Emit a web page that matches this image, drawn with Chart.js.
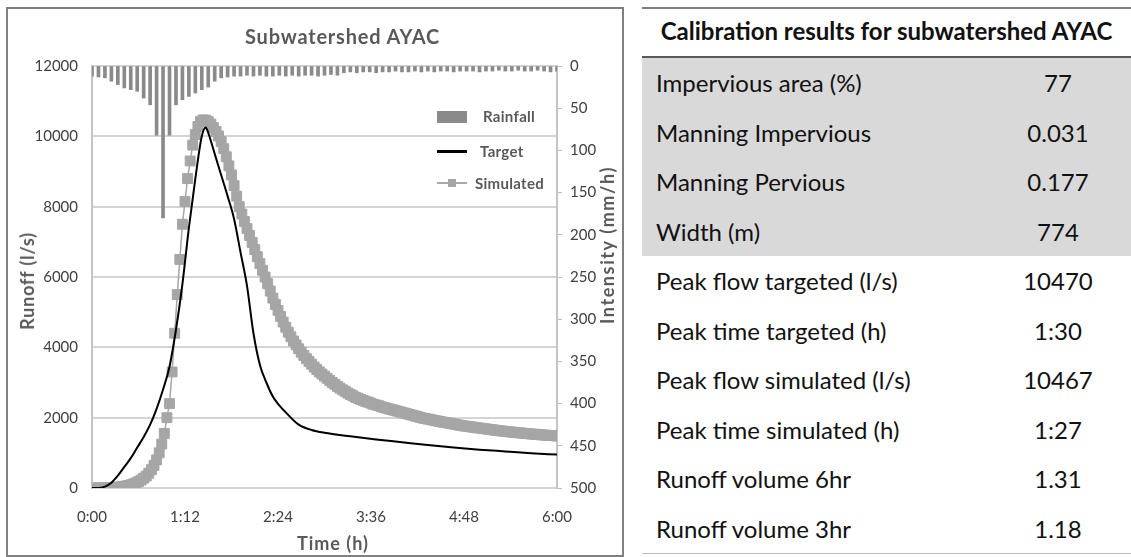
<!DOCTYPE html>
<html lang="en">
<head>
<meta charset="UTF-8">
<title>Subwatershed AYAC</title>
<script src="https://cdn.jsdelivr.net/npm/chart.js"></script>
<style>
	body {
		margin: 0;
		padding: 0;
		background: #fff;
		font-family: 'Lato', sans-serif;
		width: 1131px;
		height: 557px;
		overflow: hidden;
		position: relative;
	}

	.chart-box {
		position: absolute;
		left: 6px;
		top: 7px;
		width: 614px;
		height: 546px;
		border: 2px solid #808080;
	}

	#runoff-chart {
		position: absolute;
		left: 0;
		top: 0;
	}

	.chart-title {
		position: absolute;
		left: 245px;
		top: 24px;
		font-size: 20px;
		font-weight: 700;
		letter-spacing: 0.8px;
		color: #595959;
		white-space: nowrap;
	}

	.axis-title {
		position: absolute;
		font-size: 18px;
		font-weight: 700;
		color: #595959;
		white-space: nowrap;
		transform: translate(-50%, -50%);
	}

	.axis-title.rot {
		transform: translate(-50%, -50%) rotate(-90deg);
	}

	.legend-item {
		position: absolute;
		font-size: 15px;
		font-weight: 700;
		letter-spacing: 0.3px;
		color: #595959;
		white-space: nowrap;
		line-height: 18px;
	}

	.swatch {
		position: absolute;
	}

	/* table on the right */
	.calib {
		position: absolute;
		left: 642px;
		top: 7px;
		width: 489px;
		border-collapse: collapse;
		border-top: 2px solid #7f7f7f;
		border-bottom: 1px solid #bfbfbf;
		font-size: 24px;
		color: #111;
	}

	.calib th {
		height: 42px;
		padding: 0 0 5px 0;
		font-size: 24px;
		font-weight: 700;
		text-align: center;
		border-bottom: 2px solid #5a5a5a;
		white-space: nowrap;
	}

	.calib td {
		height: 49.5px;
		padding: 0;
		white-space: nowrap;
	}

	.calib td.lbl {
		padding-left: 14px;
		width: 329px;
	}

	.calib td.val {
		text-align: center;
	}

	.calib tr.shade td {
		background: #d9d9d9;
	}
</style>
</head>
<body>

<div class="chart-box"></div>
<canvas id="runoff-chart" width="623" height="557"></canvas>

<div class="chart-title">Subwatershed AYAC</div>
<div class="axis-title rot" style="left:27px; top:281px; letter-spacing:0.8px;">Runoff (l/s)</div>
<div class="axis-title rot" style="left:607px; top:245px; letter-spacing:1.6px;">Intensity (mm/h)</div>
<div class="axis-title" style="left:333px; top:543px; letter-spacing:1px;">Time (h)</div>

<div class="swatch" style="left:437px; top:111px; width:30px; height:12px; background:#8a8a8a;"></div>
<div class="legend-item" style="left:483px; top:107px;">Rainfall</div>
<div class="swatch" style="left:437px; top:150px; width:30px; height:3px; background:#000;"></div>
<div class="legend-item" style="left:480px; top:142px;">Target</div>
<div class="swatch" style="left:437px; top:182px; width:30px; height:2px; background:#a6a6a6;"></div>
<div class="swatch" style="left:448px; top:179px; width:8px; height:8px; background:#a6a6a6;"></div>
<div class="legend-item" style="left:475px; top:174px;">Simulated</div>

<table class="calib">
	<tr><th colspan="2">Calibration results for subwatershed AYAC</th></tr>
	<tr class="shade"><td class="lbl">Impervious area (%)</td><td class="val">77</td></tr>
	<tr class="shade"><td class="lbl">Manning Impervious</td><td class="val">0.031</td></tr>
	<tr class="shade"><td class="lbl">Manning Pervious</td><td class="val">0.177</td></tr>
	<tr class="shade"><td class="lbl">Width (m)</td><td class="val">774</td></tr>
	<tr><td class="lbl">Peak flow targeted (l/s)</td><td class="val">10470</td></tr>
	<tr><td class="lbl">Peak time targeted (h)</td><td class="val">1:30</td></tr>
	<tr><td class="lbl">Peak flow simulated (l/s)</td><td class="val">10467</td></tr>
	<tr><td class="lbl">Peak time simulated (h)</td><td class="val">1:27</td></tr>
	<tr><td class="lbl">Runoff volume 6hr</td><td class="val">1.31</td></tr>
	<tr><td class="lbl">Runoff volume 3hr</td><td class="val">1.18</td></tr>
</table>

<script>
	// rainfall intensity (mm/h), one bar every 5 minutes from 0:00 to 6:00
	const rainStep = 5;
	const rainfall = [
		12, 13, 14, 18, 22, 26, 28, 30, 38, 46, 82, 180, 82, 46, 40, 36, 32, 28, 25, 18, 14, 13, 12,
		12, 11, 12, 11, 12, 12, 11, 12, 11, 12, 11, 11, 12, 11, 10, 11,
		8, 7, 8, 7, 7, 8, 7, 7, 6, 7, 7, 6, 7, 6, 7, 6, 6, 7, 6, 6, 6, 7, 6, 6, 5, 6, 6, 5, 6, 6, 5, 6, 7, 6
	];

	// target hydrograph (minutes, l/s)
	const targetTime = [0, 5, 10, 15, 20, 25, 30, 35, 40, 45, 50, 55, 60, 65, 70, 75, 80, 85, 88, 90, 95, 100,
		105, 110, 115, 120, 125, 130, 135, 140, 145, 150, 160, 170, 180, 200, 220, 240, 260, 280, 300, 320, 340, 360];
	const targetFlow = [0, 0, 40, 150, 350, 600, 850, 1150, 1450, 1800, 2250, 2800, 3450, 4500, 5800, 7400, 8800, 10000, 10250, 10100, 9500, 8900,
		8300, 7650, 6700, 5750, 4400, 3500, 3000, 2600, 2350, 2150, 1800, 1650, 1570, 1470, 1380, 1300, 1220, 1150, 1090, 1040, 990, 950];

	// simulated hydrograph (l/s), one value every 2 minutes (one row = 20 minutes)
	const simStep = 2;
	const simulatedFlow = [
		0, 0, 0, 0, 0, 5, 5, 10, 15, 20,
		25, 30, 40, 55, 70, 90, 115, 145, 180, 225,
		280, 340, 420, 520, 640, 800, 1000, 1250, 1550, 2000,
		2400, 3300, 4400, 5500, 6500, 7500, 8150, 8800, 9300, 9750,
		10050, 10280, 10420, 10467, 10460, 10420, 10350, 10250, 10140, 10010,
		9850, 9650, 9420, 9160, 8900, 8600, 8300, 8000, 7790, 7580,
		7380, 7180, 6980, 6780, 6580, 6380, 6190, 6000, 5810, 5600,
		5400, 5220, 5050, 4880, 4720, 4570, 4430, 4300, 4180, 4070,
		3960, 3860, 3770, 3680, 3600, 3520, 3440, 3370, 3300, 3240,
		3180, 3120, 3060, 3000, 2950, 2890, 2840, 2790, 2750, 2700,
		2660, 2620, 2580, 2550, 2520, 2490, 2460, 2440, 2410, 2380,
		2360, 2340, 2310, 2290, 2270, 2250, 2230, 2210, 2190, 2170,
		2150, 2130, 2110, 2090, 2070, 2050, 2030, 2010, 1990, 1975,
		1960, 1945, 1930, 1915, 1900, 1885, 1870, 1860, 1845, 1830,
		1820, 1805, 1790, 1780, 1765, 1755, 1745, 1735, 1725, 1715,
		1705, 1695, 1685, 1675, 1665, 1655, 1645, 1635, 1625, 1620,
		1610, 1600, 1595, 1585, 1580, 1570, 1565, 1555, 1550, 1545,
		1535, 1530, 1525, 1520, 1510, 1505, 1500, 1495, 1490, 1485,
		1480
	];

	const timeTickLabels = ['0:00', '1:12', '2:24', '3:36', '4:48', '6:00'];

	Chart.defaults.font.family = 'Lato';

	const tickFont = { family: 'Lato', size: 15 };
	const tickColor = '#404040';

	new Chart(document.getElementById('runoff-chart'), {
		type: 'line',
		data: {
			datasets: [
				{
					label: 'Target',
					data: targetTime.map((t, i) => ({ x: t, y: targetFlow[i] })),
					borderColor: '#000',
					borderWidth: 2,
					pointRadius: 0,
					cubicInterpolationMode: 'monotone',
					yAxisID: 'y',
					order: 0
				},
				{
					label: 'Simulated',
					data: simulatedFlow.map((v, i) => ({ x: i * simStep, y: v })),
					borderColor: '#a6a6a6',
					backgroundColor: '#a6a6a6',
					borderWidth: 1.5,
					pointStyle: 'rect',
					pointRadius: 7,
					pointBorderWidth: 1,
					pointBorderColor: '#a6a6a6',
					pointBackgroundColor: '#a6a6a6',
					yAxisID: 'y',
					order: 1
				},
				{
					type: 'bar',
					label: 'Rainfall',
					data: rainfall.map((v, i) => ({ x: i * rainStep, y: v })),
					backgroundColor: '#8a8a8a',
					barThickness: 3,
					yAxisID: 'yR',
					order: 2
				}
			]
		},
		options: {
			responsive: false,
			animation: false,
			layout: { padding: { top: 66, left: 0, right: 0, bottom: 0 } },
			plugins: {
				legend: { display: false },
				tooltip: { enabled: false }
			},
			scales: {
				x: {
					type: 'linear',
					min: 0,
					max: 360,
					offset: false,
					grid: { display: false },
					border: { display: false },
					ticks: {
						stepSize: 72,
						padding: 12,
						color: tickColor,
						font: tickFont,
						maxRotation: 0,
						callback: (v, i) => timeTickLabels[i]
					},
					afterFit: s => { s.height = 69; }
				},
				y: {
					position: 'left',
					min: 0,
					max: 12000,
					ticks: {
						stepSize: 2000,
						padding: 14,
						color: tickColor,
						font: tickFont,
						callback: v => String(v)
					},
					grid: { color: '#d4d4d4', lineWidth: 2, drawTicks: false },
					border: { color: '#c4c4c4', width: 2 },
					afterFit: s => { s.width = 92; }
				},
				yR: {
					position: 'right',
					min: 0,
					max: 500,
					reverse: true,
					ticks: {
						stepSize: 50,
						padding: 8,
						color: tickColor,
						font: tickFont
					},
					grid: { drawOnChartArea: false, drawTicks: true, tickLength: 5, color: '#bfbfbf' },
					border: { color: '#c4c4c4', width: 2 },
					afterFit: s => { s.width = 66; }
				}
			}
		}
	});
</script>
</body>
</html>
